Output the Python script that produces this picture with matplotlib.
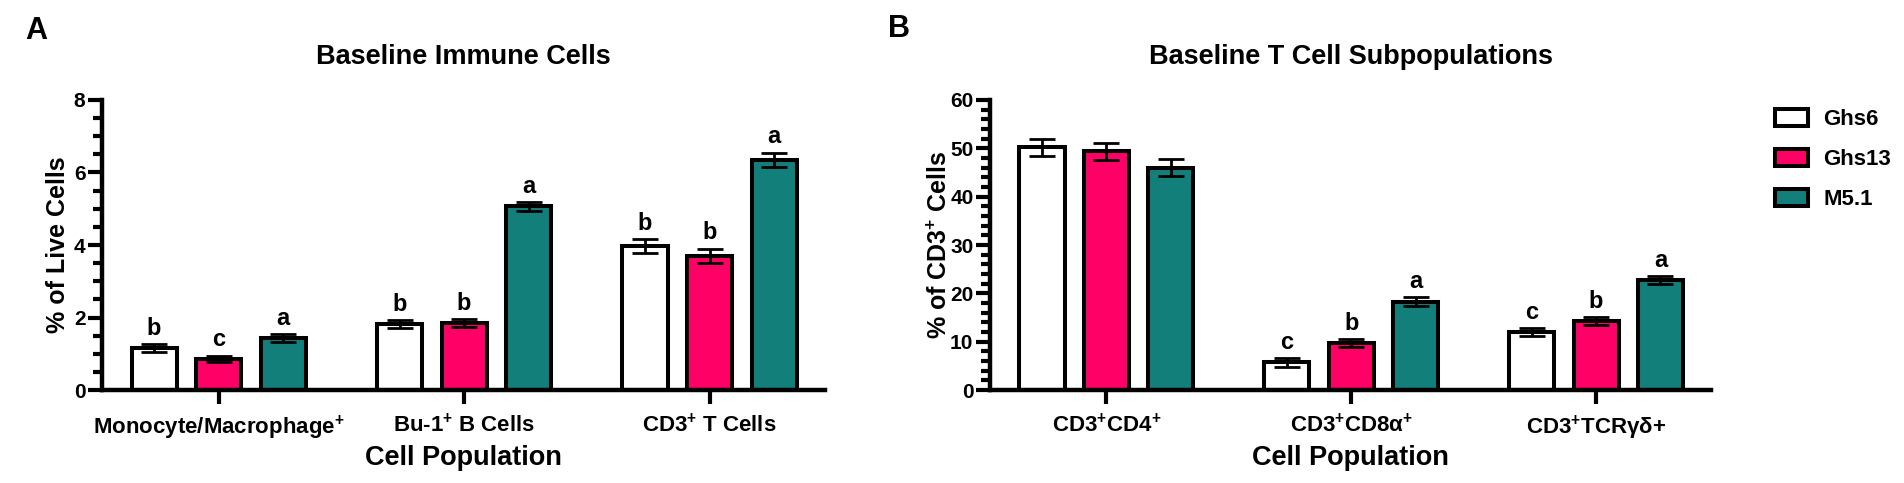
import numpy as np
import matplotlib
matplotlib.use("Agg")
import matplotlib.pyplot as plt
from matplotlib.ticker import MultipleLocator

plt.rcParams['font.family'] = ['Liberation Sans', 'DejaVu Sans']
plt.rcParams['font.weight'] = 'bold'
plt.rcParams['mathtext.fontset'] = 'custom'
plt.rcParams['mathtext.rm'] = 'Liberation Sans:bold'
plt.rcParams['mathtext.bf'] = 'Liberation Sans:bold'
plt.rcParams['mathtext.it'] = 'Liberation Sans:bold'

strains = ['Ghs6', 'Ghs13', 'M5.1']
colores = ['#FFFFFF', '#FF0066', '#127F7B']

# Panel A: celulas inmunes basales (% de celulas vivas)
cats_a = ['Monocyte/Macrophage$^{+}$', 'Bu-1$^{+}$ B Cells', 'CD3$^{+}$ T Cells']
ghs6_a = [1.16, 1.82, 3.98]
ghs13_a = [0.86, 1.84, 3.70]
m51_a = [1.44, 5.07, 6.35]
se_ghs6_a = [0.10, 0.10, 0.19]
se_ghs13_a = [0.09, 0.11, 0.20]
se_m51_a = [0.11, 0.12, 0.20]
let_ghs6_a = ['b', 'b', 'b']
let_ghs13_a = ['c', 'b', 'b']
let_m51_a = ['a', 'a', 'a']

# Panel B: subpoblaciones de celulas T (% de CD3+)
cats_b = ['CD3$^{+}$CD4$^{+}$', 'CD3$^{+}$CD8α$^{+}$', 'CD3$^{+}$TCRγδ+']
ghs6_b = [50.2, 5.7, 12.0]
ghs13_b = [49.4, 9.7, 14.2]
m51_b = [46.0, 18.3, 22.7]
se_ghs6_b = [1.8, 0.9, 0.85]
se_ghs13_b = [1.8, 0.9, 0.85]
se_m51_b = [1.7, 0.9, 0.8]
let_ghs6_b = ['', 'c', 'c']
let_ghs13_b = ['', 'b', 'b']
let_m51_b = ['', 'a', 'a']

fig = plt.figure(figsize=(19.04, 4.83), dpi=100)
ax_a = fig.add_axes([0.0536, 0.1925, 0.3797, 0.6005])
ax_b = fig.add_axes([0.5200, 0.1925, 0.3787, 0.6005])


def panel(ax, cats, series, errs, letras, ymax, major, minor, titulo, ylab):
    x = np.arange(len(cats))
    paso = 0.263
    ancho = 0.184
    for i, (vals, ee, ll) in enumerate(zip(series, errs, letras)):
        pos = x + (i - 1) * paso
        ax.bar(pos, vals, ancho, color=colores[i], edgecolor='black',
               linewidth=2.9, label=strains[i], zorder=2)
        ax.errorbar(pos, vals, yerr=ee, fmt='none', ecolor='black',
                    elinewidth=2, capsize=9.5, capthick=2, zorder=3)
        for p, v, e, l in zip(pos, vals, ee, ll):
            if l:
                ax.annotate(l, (p, v + e), xytext=(0, 3), textcoords='offset points',
                            ha='center', va='bottom', fontsize=17, fontweight='bold')
    ax.set_xlim(-0.475, 2.47)
    ax.set_ylim(0, ymax)
    ax.set_xticks(x)
    ax.set_xticklabels(cats, fontsize=16, fontweight='bold')
    ax.yaxis.set_major_locator(MultipleLocator(major))
    ax.yaxis.set_minor_locator(MultipleLocator(minor))
    ax.tick_params(axis='y', which='major', length=10, width=3, labelsize=15, pad=2)
    ax.tick_params(axis='y', which='minor', length=6.5, width=3)
    ax.tick_params(axis='x', which='major', length=10, width=3, pad=7)
    for s in ['top', 'right']:
        ax.spines[s].set_visible(False)
    for s in ['left', 'bottom']:
        ax.spines[s].set_linewidth(3.2)
    ax.set_title(titulo, fontsize=19.5, fontweight='bold', pad=26)
    ax.set_ylabel(ylab, fontsize=18, fontweight='bold')
    ax.set_xlabel('Cell Population', fontsize=19.5, fontweight='bold')
    ax.xaxis.set_label_coords(0.5, -0.19)


panel(ax_a, cats_a, [ghs6_a, ghs13_a, m51_a], [se_ghs6_a, se_ghs13_a, se_m51_a],
      [let_ghs6_a, let_ghs13_a, let_m51_a], 8, 2, 0.5,
      'Baseline Immune Cells', '% of Live Cells')
panel(ax_b, cats_b, [ghs6_b, ghs13_b, m51_b], [se_ghs6_b, se_ghs13_b, se_m51_b],
      [let_ghs6_b, let_ghs13_b, let_m51_b], 60, 10, 2,
      'Baseline T Cell Subpopulations', '% of CD3$^{+}$ Cells')
ax_a.yaxis.set_label_coords(-0.044, 0.5)
ax_b.yaxis.set_label_coords(-0.053, 0.5)

handles, labels = ax_b.get_legend_handles_labels()
fig.legend(handles, labels, loc='upper left', bbox_to_anchor=(0.932, 0.775),
           frameon=False, handlelength=1.5, handleheight=0.8,
           handletextpad=0.7, labelspacing=0.85, borderpad=0, borderaxespad=0,
           prop={'weight': 'bold', 'size': 16})

fig.text(25 / 1904, 1 - 16 / 483, 'A', fontsize=22, fontweight='bold', va='top')
fig.text(888 / 1904, 1 - 14 / 483, 'B', fontsize=22, fontweight='bold', va='top')

fig.savefig('out.png', dpi=100)
